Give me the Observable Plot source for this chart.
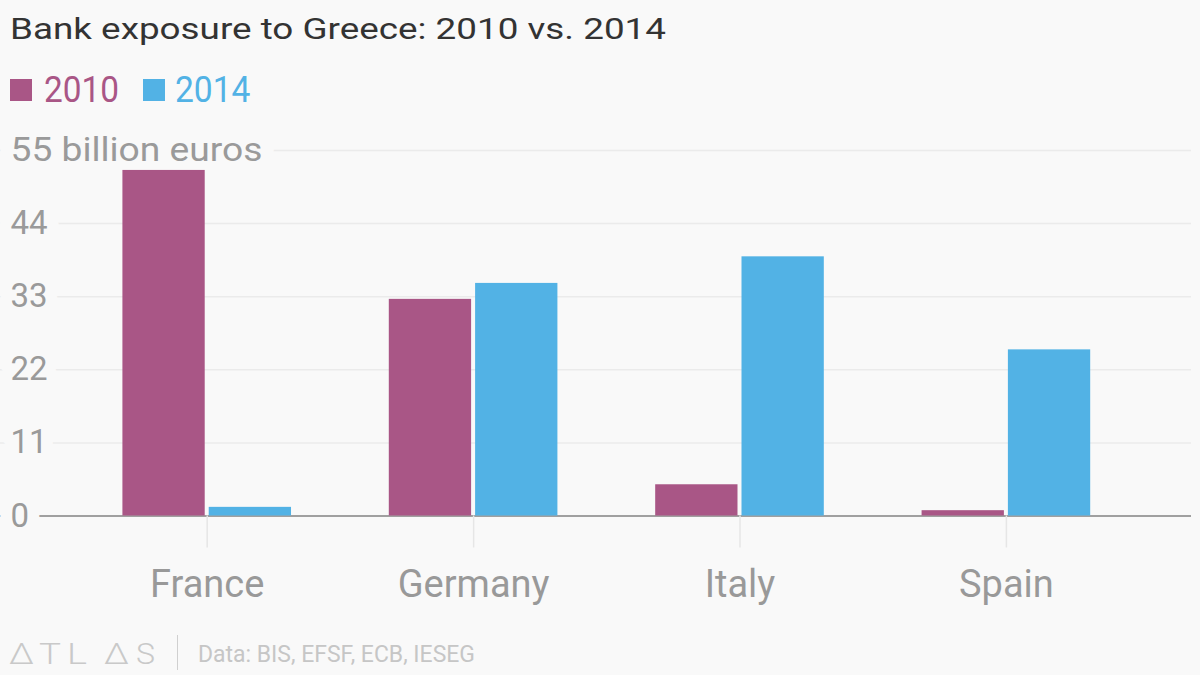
<!DOCTYPE html>
<html>
<head>
<meta charset="utf-8">
<script src="https://cdn.jsdelivr.net/npm/d3@7"></script>
<script src="https://cdn.jsdelivr.net/npm/@observablehq/plot@0.6"></script>
<style>
  html, body { margin: 0; padding: 0; background: #f9f9f9; }
  #chart { position: relative; width: 1200px; height: 675px; overflow: hidden; background: #f9f9f9; font-family: Roboto, sans-serif; }
  #chart svg { position: absolute; left: 0; top: 0; }
  .txt { position: absolute; white-space: nowrap; transform-origin: 0 0; }
  .title { left: 10px; top: 14.5px; font-size: 29.5px; line-height: 29.5px; color: #333; }
  .leg { top: 71px; font-size: 37px; line-height: 37px; }
  .sw { position: absolute; width: 22px; height: 22px; top: 79px; }
  .logo { top: 639.6px; font-size: 29px; line-height: 29px; font-weight: 300; color: #c9c9c9; }
  .sep { position: absolute; left: 176.5px; top: 635px; width: 1px; height: 35px; background: #d0d0d0; }
  .src { left: 198px; top: 643px; font-size: 23px; line-height: 23px; color: #c6c6c6; }
</style>
</head>
<body>
<div id="chart"></div>
<script>
const countries = ["France", "Germany", "Italy", "Spain"];
const years = ["2010", "2014"];
const values2010 = [52.0, 32.6, 4.7, 0.8];
const values2014 = [1.3, 35.0, 39.0, 25.0];
const yTicks = [0, 11, 22, 33, 44, 55];
const yTickLabels = ["0", "11", "22", "33", "44", "55 billion euros"];
const colors = ["#a95686", "#52b2e5"];
const titleText = "Bank exposure to Greece: 2010 vs. 2014";
const sourceText = "Data: BIS, EFSF, ECB, IESEG";
const logoLetters = ["Δ", "T", "L", "Δ", "S"];

const rows = countries.flatMap((c, i) => [
  {country: c, year: years[0], value: values2010[i]},
  {country: c, year: years[1], value: values2014[i]}
]);

const W = 1200, H = 675, MT = 150, MB = 159.5;
const chart = document.getElementById("chart");
const fits = [];
function addText(cls, text, left, color, target) {
  const el = document.createElement("div");
  el.className = "txt " + cls;
  el.textContent = text;
  if (left != null) el.style.left = left + "px";
  if (color) el.style.color = color;
  chart.appendChild(el);
  if (target) fits.push([el, target]);
  return el;
}
function applyFits() {
  fits.forEach(([el, target]) => {
    el.style.transform = "none";
    const w = el.getBoundingClientRect().width;
    if (w > 0) el.style.transform = `scaleX(${target / w})`;
  });
}

// Title
addText("title", titleText, 10, null, 656);

// Legend
const legX = [{sw: 9.5, tx: 43.5, w: 75}, {sw: 142.5, tx: 175, w: 75.5}];
years.forEach((y, i) => {
  const s = document.createElement("div");
  s.className = "sw"; s.style.left = legX[i].sw + "px"; s.style.background = colors[i];
  chart.appendChild(s);
  addText("leg", y, legX[i].tx, colors[i], legX[i].w);
});

// Grid layer
const grid = Plot.plot({
  width: W, height: H, marginTop: MT, marginBottom: MB, marginLeft: 0, marginRight: 9,
  style: {background: "transparent", fontFamily: "Roboto, sans-serif", overflow: "visible"},
  y: {domain: [0, 55], axis: null},
  marks: [
    Plot.ruleY(yTicks.filter(d => d > 0), {stroke: "#ebebeb", strokeWidth: 1.5}),
    Plot.ruleY([0], {stroke: "#a0a0a0", strokeWidth: 2}),
    Plot.text(yTicks, {
      y: d => d, text: (d, i) => yTickLabels[i], frameAnchor: "left", dx: 10, textAnchor: "start",
      fill: "#9a9a9a", stroke: "#f9f9f9", strokeWidth: 24, strokeLinejoin: "round", paintOrder: "stroke",
      fontSize: 33
    })
  ]
});
d3.select(grid).selectAll("text")
  .filter(function() { return this.textContent === yTickLabels[yTickLabels.length - 1]; })
  .attr("textLength", 252).attr("lengthAdjust", "spacingAndGlyphs");
chart.appendChild(grid);

// Bars layer
const bars = Plot.plot({
  width: W, height: H, marginTop: MT, marginBottom: MB, marginLeft: 118.4, marginRight: 105.8,
  style: {background: "transparent", fontFamily: "Roboto, sans-serif", overflow: "visible"},
  fx: {domain: countries, paddingInner: 0.337, paddingOuter: 0, round: false, label: null},
  x: {domain: years, padding: 0.0464, round: false, axis: null},
  y: {domain: [0, 55], axis: null},
  color: {domain: years, range: colors},
  marks: [
    Plot.barY(rows, {fx: "country", x: "year", y: "value", fill: "year"}),
    Plot.axisFx({anchor: "bottom", tickSize: 32, tickPadding: 22, stroke: "#e6e6e6", strokeWidth: 1.5, fill: "#999", fontSize: 38, label: null})
  ]
});
chart.appendChild(bars);

// Footer
const logoX = [{x: 8.5, w: 25}, {x: 38.5, w: 22}, {x: 67, w: 20}, {x: 103.5, w: 25}, {x: 136, w: 19}];
logoLetters.forEach((ch, i) => addText("logo", ch, logoX[i].x, null, logoX[i].w));
const sep = document.createElement("div"); sep.className = "sep"; chart.appendChild(sep);
addText("src", sourceText, 198, null, 277);

applyFits();
if (document.fonts && document.fonts.ready) document.fonts.ready.then(applyFits);
</script>
</body>
</html>
